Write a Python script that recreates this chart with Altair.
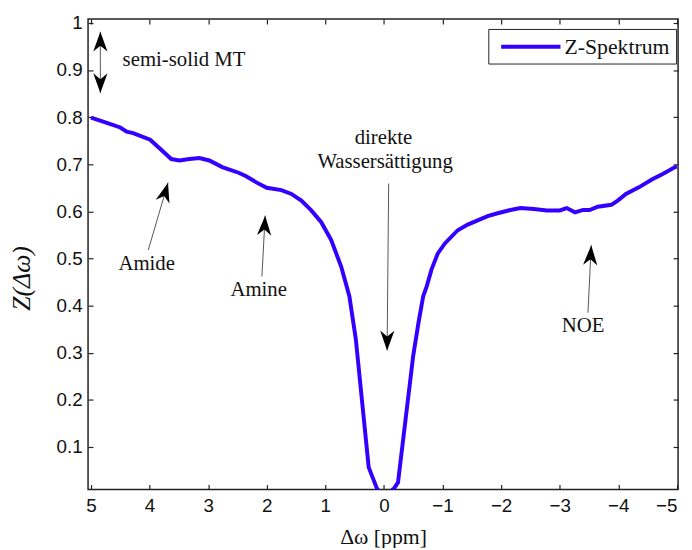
import altair as alt
import pandas as pd

# ---- data ----
x_ppm = [5.0, 4.78, 4.5, 4.39, 4.28, 3.99, 3.83, 3.63, 3.49, 3.32, 3.15, 2.98,
         2.76, 2.48, 2.36, 2.17, 2.0, 1.75, 1.58, 1.41, 1.24, 1.07, 0.9, 0.73,
         0.59, 0.48, 0.26, 0.12, 0.0, -0.17, -0.24, -0.5, -0.59, -0.67, -0.73,
         -0.81, -0.92, -1.04, -1.26, -1.43, -1.6, -1.77, -1.94, -2.16, -2.33,
         -2.56, -2.78, -3.0, -3.12, -3.26, -3.4, -3.51, -3.65, -3.88, -3.99,
         -4.13, -4.35, -4.58, -4.75, -4.97, -5.0]
z_val = [0.799, 0.790, 0.778, 0.769, 0.766, 0.752, 0.734, 0.711, 0.708, 0.711,
         0.713, 0.708, 0.694, 0.682, 0.675, 0.661, 0.650, 0.645, 0.637, 0.623,
         0.602, 0.577, 0.539, 0.483, 0.420, 0.329, 0.057, 0.012, -0.005, 0.012,
         0.025, 0.294, 0.364, 0.420, 0.441, 0.476, 0.511, 0.532, 0.560, 0.572,
         0.581, 0.590, 0.596, 0.603, 0.607, 0.605, 0.602, 0.602, 0.607, 0.598,
         0.603, 0.603, 0.610, 0.614, 0.623, 0.637, 0.651, 0.668, 0.679, 0.694,
         0.695]
series_name = "Z-Spektrum"

tick_x = [5, 4, 3, 2, 1, 0, -1, -2, -3, -4, -5]
tick_y = [0.1, 0.2, 0.3, 0.4, 0.5, 0.6, 0.7, 0.8, 0.9, 1.0]

# annotation arrows (tail -> tip), head angle in degrees (clockwise from up)
arrow_tail_x = [4.84, 4.84, 4.022, 2.083, -0.081, -3.482]
arrow_tail_y = [0.916, 0.916, 0.518, 0.462, 0.659, 0.385]
arrow_tip_x = [4.84, 4.84, 3.685, 2.027, -0.054, -3.538]
arrow_tip_y = [0.981, 0.851, 0.661, 0.591, 0.305, 0.528]
arrow_angle = [0, 180, 16, 3, 180.5, 3]

label_text = ["semi-solid MT", "Amide", "Amine", "direkte", "Wassersättigung", "NOE"]
label_x = [4.46, 4.05, 2.138, 0.008, -0.02, -3.40]
label_y = [0.908, 0.476, 0.421, 0.742, 0.692, 0.344]
label_left = [True, False, False, False, False, False]

line_df = pd.DataFrame({"x": x_ppm, "z": z_val, "serie": series_name})
arrow_df = pd.DataFrame({"x": arrow_tail_x, "y": arrow_tail_y,
                         "x2": arrow_tip_x, "y2": arrow_tip_y, "ang": arrow_angle})
label_df = pd.DataFrame({"t": label_text, "x": label_x, "y": label_y, "left": label_left})

xs = alt.Scale(domain=[5.05, -5.02], nice=False, zero=False)
ys = alt.Scale(domain=[0.01, 1.008], nice=False, zero=False)

SANS = "Liberation Sans"
SERIF = "Liberation Serif"
FRAME = "#222222"

common_axis = dict(grid=False, domain=False, ticks=True, tickSize=5, offset=-5,
                   tickColor=FRAME, tickWidth=1.2)

line = alt.Chart(line_df).mark_line(clip=True, strokeWidth=4).encode(
    x=alt.X("x:Q", scale=xs, axis=alt.Axis(
        orient="bottom", values=tick_x, format="~g", title="Δω [ppm]",
        labelFont=SANS, labelFontSize=19, labelColor="#111", labelPadding=7,
        labelFlush=2, labelOverlap=False,
        titleFont=SERIF, titleFontSize=22, titleFontWeight="normal",
        titleColor="#111", titlePadding=12, **common_axis)),
    y=alt.Y("z:Q", scale=ys, axis=alt.Axis(
        orient="left", values=tick_y, format="~g", title="Z(Δω)",
        labelFont=SANS, labelFontSize=19, labelColor="#111", labelPadding=6,
        labelFlush=False, labelOverlap=False,
        titleFont=SERIF, titleFontSize=26, titleFontWeight="normal",
        titleFontStyle="italic", titleColor="#111", titlePadding=22, titleY=262,
        **common_axis)),
    color=alt.Color("serie:N", scale=alt.Scale(range=["#3300ff"]), legend=alt.Legend(
        title=None, orient="none", legendX=405, legendY=10,
        symbolType="M-0.5,0L5.5,0", symbolSize=400, symbolStrokeWidth=4,
        symbolFillColor="transparent",
        strokeColor=FRAME, fillColor="white", padding=6,
        labelFont=SERIF, labelFontSize=22, labelColor="#111", labelOffset=47)),
)

frame_axes = alt.Chart(line_df).mark_point(opacity=0).encode(
    x=alt.X("x:Q", scale=xs, axis=alt.Axis(orient="top", values=tick_x, labels=False,
                                            title=None, **common_axis)),
    y=alt.Y("z:Q", scale=ys, axis=alt.Axis(orient="right", values=tick_y, labels=False,
                                            title=None, **common_axis)),
)

shafts = alt.Chart(arrow_df).mark_rule(color="#555555", strokeWidth=1).encode(
    x=alt.X("x:Q", scale=xs, axis=None),
    y=alt.Y("y:Q", scale=ys, axis=None),
    x2="x2:Q", y2="y2:Q",
)

head_path = "M0,0 L0.72,2 L0,1.4 L-0.72,2 Z"
heads = alt.Chart(arrow_df).mark_point(shape=head_path, filled=True, color="black",
                                        size=400, opacity=1, strokeWidth=0).encode(
    x=alt.X("x2:Q", scale=xs, axis=None),
    y=alt.Y("y2:Q", scale=ys, axis=None),
    angle=alt.Angle("ang:Q", scale=None),
)

texts_c = alt.Chart(label_df).transform_filter("!datum.left").mark_text(
    font=SERIF, fontSize=21, color="#111", align="center", baseline="alphabetic").encode(
    x=alt.X("x:Q", scale=xs, axis=None),
    y=alt.Y("y:Q", scale=ys, axis=None),
    text="t:N",
)
texts_l = alt.Chart(label_df).transform_filter("datum.left").mark_text(
    font=SERIF, fontSize=21, color="#111", align="left", baseline="alphabetic").encode(
    x=alt.X("x:Q", scale=xs, axis=None),
    y=alt.Y("y:Q", scale=ys, axis=None),
    text="t:N",
)

chart = alt.layer(line, frame_axes, shafts, heads, texts_c, texts_l).resolve_axis(
    x="independent", y="independent"
).properties(
    width=597, height=476,
    autosize=alt.AutoSizeParams(type="none"),
    padding={"left": 81, "top": 8, "right": 6, "bottom": 56},
    background="white",
).configure_view(stroke=FRAME, strokeWidth=1.5)

chart.save("out.html", embed_options={"renderer": "svg", "actions": False})
